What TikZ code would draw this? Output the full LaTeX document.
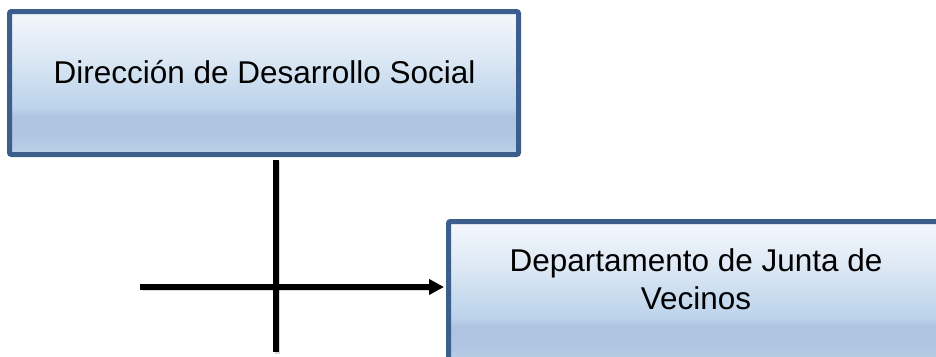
\documentclass[tikz,border=0pt]{standalone}
\usepackage{fontspec}
\setmainfont{Liberation Sans}
\usetikzlibrary{arrows.meta}
\definecolor{boxborder}{RGB}{59,94,140}
\definecolor{shA}{RGB}{244,247,252}
\definecolor{shB}{RGB}{222,233,245}
\definecolor{shC}{RGB}{198,218,238}
\definecolor{shD}{RGB}{188,211,235}
\definecolor{shE}{RGB}{175,196,224}
\definecolor{shF}{RGB}{177,198,226}
\definecolor{shG}{RGB}{188,208,233}
\pgfdeclareverticalshading{boxshade}{100bp}{%
  color(0bp)=(shG); color(25bp)=(shG); color(31bp)=(shF); color(38.5bp)=(shE);
  color(41bp)=(shD); color(47.5bp)=(shC); color(60bp)=(shB); color(75bp)=(shA);
  color(100bp)=(shA)}
\begin{document}
\begin{tikzpicture}[x=1pt,y=-1pt,
  orgbox/.style={draw=boxborder, line width=5pt, rounded corners=2pt,
    shading=boxshade, minimum width=509pt, minimum height=143pt, inner sep=0pt},
  lbl/.style={font=\fontsize{31.5}{38}\selectfont, inner sep=0pt, text=black},
  conn/.style={line width=5.5pt, black},
  connshadow/.style={line width=5.5pt, black, opacity=0.15,
    transform canvas={shift={(1.5pt,-1.5pt)}}}]
\useasboundingbox (0,0) rectangle (936,356);
\clip (0,0) rectangle (936,356);
\node[orgbox] (b1) at (264,83) {};
\node[lbl, anchor=base] (t1) at (264.5,83) {Dirección de Desarrollo Social};
\node[orgbox, minimum width=495pt] (b2) at (696,293) {};
\node[lbl, anchor=base] (t2) at (696,271)
  {\begin{tabular}[t]{@{}c@{}}Departamento de Junta de\\Vecinos\end{tabular}};
\coordinate (vb) at (276,352);
\coordinate (hs) at (140,287);
\draw[connshadow, shorten <=2.5pt] (vb |- b1.south) -- (vb);
\draw[connshadow, shorten >=18pt] (hs) -- (hs -| b2.west);
\draw[conn, shorten <=2.5pt] (vb |- b1.south) -- (vb);
\draw[conn, shorten >=2pt, -{Triangle[length=15pt,width=15pt]}] (hs) -- (hs -| b2.west);
\end{tikzpicture}
\end{document}
